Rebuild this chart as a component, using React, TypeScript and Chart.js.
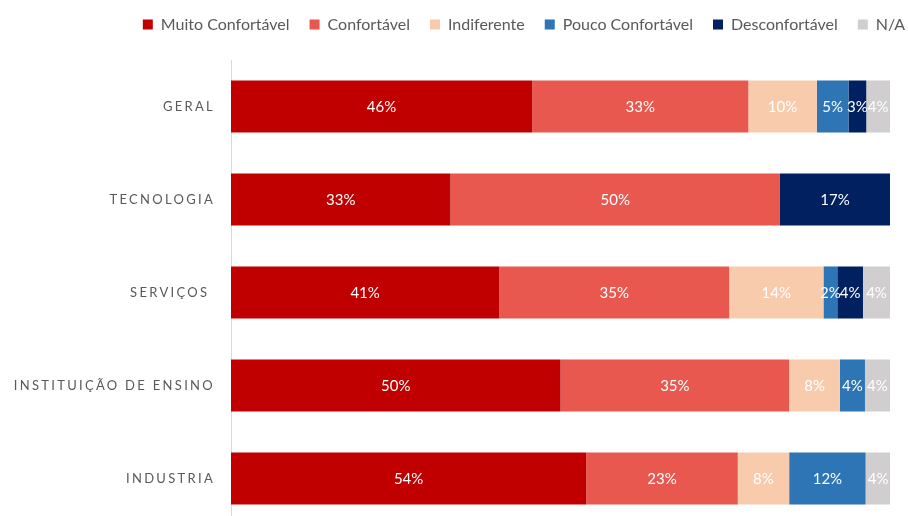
import React, { useEffect, useRef } from "react";
import { Chart, registerables } from "chart.js";

Chart.register(...registerables);

const categories = ["GERAL", "TECNOLOGIA", "SERVIÇOS ", "INSTITUIÇÃO DE ENSINO", "INDUSTRIA"];
const seriesNames = ["Muito Confortável", "Confortável", "Indiferente", "Pouco Confortável", "Desconfortável", "N/A"];
const muitoConfortavel = [45.7, 33.3, 40.7, 50.0, 53.9];
const confortavel = [32.8, 50.0, 34.9, 34.7, 23.0];
const indiferente = [10.4, 0, 14.3, 7.7, 7.8];
const poucoConfortavel = [4.8, 0, 2.1, 3.8, 11.6];
const desconfortavel = [2.7, 16.7, 3.9, 0, 0];
const naoAplica = [3.6, 0, 4.1, 3.8, 3.8];
const seriesColors = ["#C00000", "#E9584E", "#F8CBAD", "#2E75B6", "#002060", "#D0CECE"];

const FONT = "Lato, 'Open Sans', sans-serif";

const legendMargin = {
  id: "legendMargin",
  beforeInit(chart: any) {
    const lg = chart.legend;
    if (!lg) return;
    const orig = lg.fit;
    lg.fit = function () {
      orig.call(lg);
      lg.height = 60;
    };
  },
  afterLayout(chart: any) {
    const lg = chart.legend;
    if (!lg) return;
    const shift = 524 - (lg.left + lg.right) / 2;
    lg.left += shift;
    lg.right += shift;
    lg.top -= 3.5;
    lg.bottom -= 3.5;
  },
};

const valueLabels = {
  id: "valueLabels",
  afterDatasetsDraw(chart: any) {
    const ctx = chart.ctx;
    ctx.save();
    ctx.font = `15px ${FONT}`;
    ctx.fillStyle = "#FFFFFF";
    ctx.textAlign = "center";
    ctx.textBaseline = "middle";
    chart.data.datasets.forEach((ds: any, i: number) => {
      const meta = chart.getDatasetMeta(i);
      meta.data.forEach((bar: any, j: number) => {
        const v = ds.data[j];
        if (!v) return;
        const p = bar.getProps(["x", "base", "y"], true);
        ctx.fillText(Math.round(v) + "%", (p.x + p.base) / 2, p.y + 1);
      });
    });
    ctx.restore();
  },
};

const categoryLabels = {
  id: "categoryLabels",
  afterDraw(chart: any) {
    const ctx = chart.ctx;
    const y = chart.scales.y;
    ctx.save();
    ctx.font = `13px ${FONT}`;
    (ctx as any).letterSpacing = "2.3px";
    ctx.fillStyle = "#595959";
    ctx.textAlign = "right";
    ctx.textBaseline = "middle";
    categories.forEach((c, i) => {
      ctx.fillText(c, y.right - 16, y.getPixelForValue(i) + 0.5);
    });
    ctx.restore();
  },
};

export default function App() {
  const ref = useRef<HTMLCanvasElement>(null);
  useEffect(() => {
    document.body.style.margin = "0";
    const values = [muitoConfortavel, confortavel, indiferente, poucoConfortavel, desconfortavel, naoAplica];
    const chart = new Chart(ref.current!, {
      type: "bar",
      data: {
        labels: categories,
        datasets: seriesNames.map((name, i) => ({
          label: name,
          data: values[i],
          backgroundColor: seriesColors[i],
          borderWidth: 0,
          categoryPercentage: 1,
          barPercentage: 0.56,
        })),
      },
      options: {
        indexAxis: "y",
        animation: false,
        responsive: false,
        maintainAspectRatio: false,
        layout: { padding: { top: 0, right: 18, bottom: 5, left: 0 } },
        plugins: {
          tooltip: { enabled: false },
          legend: {
            position: "top",
            align: "center",
            labels: {
              boxWidth: 10,
              boxHeight: 10,
              padding: 20,
              color: "#595959",
              font: { family: FONT, size: 16 },
            },
          },
        },
        scales: {
          x: { stacked: true, min: 0, max: 100, display: false },
          y: {
            stacked: true,
            grid: { display: false },
            border: { display: true, color: "#D9D9D9", width: 1 },
            ticks: { display: false },
            afterFit: (s: any) => {
              s.width = 231;
            },
          },
        },
      },
      plugins: [legendMargin, valueLabels, categoryLabels],
    });
    return () => chart.destroy();
  }, []);
  return (
    <div style={{ position: "relative", width: 908, height: 516, overflow: "hidden", background: "#fff" }}>
      <canvas ref={ref} width={908} height={530} style={{ display: "block", width: 908, height: 530 }} />
    </div>
  );
}
